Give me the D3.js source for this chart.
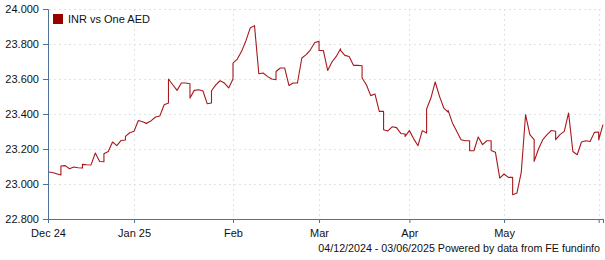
<!DOCTYPE html>
<html>
<head>
<meta charset="utf-8">
<script src="https://cdn.jsdelivr.net/npm/d3@7"></script>
<style>
  body { margin: 0; background: #fff; }
  svg { display: block; font-family: "Liberation Sans", Arial, sans-serif; }
</style>
</head>
<body>
<svg width="605" height="260"></svg>
<script>
// daily INR per AED, one value per calendar day from 04/12/2024 to 03/06/2025
// weekends (Sat, Sun) sit on the following Monday's slot, like the source chart
const startDate = new Date(2024, 11, 4);
const rates = [
  23.069, 23.066, 23.059, 23.051, 23.051,                  // Dec 4-8
  23.103, 23.105, 23.087, 23.097, 23.093, 23.091, 23.091,  // Dec 9-15
  23.112, 23.110, 23.109, 23.177, 23.129, 23.127, 23.127,  // Dec 16-22
  23.173, 23.186, 23.240, 23.219, 23.249, 23.251, 23.251,  // Dec 23-29
  23.272, 23.293, 23.301, 23.363, 23.356, 23.345, 23.345,  // Dec 30-Jan 5
  23.349, 23.362, 23.383, 23.389, 23.453, 23.463, 23.463,  // Jan 6-12
  23.600, 23.567, 23.535, 23.577, 23.577, 23.573, 23.573,  // Jan 13-19
  23.491, 23.535, 23.539, 23.533, 23.459, 23.463, 23.463,  // Jan 20-26
  23.533, 23.566, 23.590, 23.577, 23.549, 23.600, 23.600,  // Jan 27-Feb 2
  23.691, 23.714, 23.758, 23.819, 23.891, 23.905, 23.905,  // Feb 3-9
  23.905, 23.630, 23.634, 23.615, 23.600, 23.596, 23.596,  // Feb 10-16
  23.643, 23.663, 23.663, 23.563, 23.577, 23.577, 23.577,  // Feb 17-23
  23.580, 23.720, 23.739, 23.767, 23.809, 23.815, 23.815,  // Feb 24-Mar 2
  23.763, 23.763, 23.649, 23.697, 23.729, 23.773, 23.773,  // Mar 3-9
  23.763, 23.735, 23.729, 23.678, 23.678, 23.676, 23.676,  // Mar 10-16
  23.606, 23.567, 23.505, 23.514, 23.415, 23.415, 23.415,  // Mar 17-23
  23.310, 23.303, 23.327, 23.322, 23.289, 23.286, 23.286,  // Mar 24-30
  23.272, 23.305, 23.258, 23.219, 23.305, 23.291, 23.291,  // Mar 31-Apr 6
  23.429, 23.491, 23.583, 23.501, 23.434, 23.411, 23.411,  // Apr 7-13
  23.421, 23.349, 23.301, 23.253, 23.247, 23.247, 23.247,  // Apr 14-20
  23.190, 23.190, 23.269, 23.225, 23.247, 23.247, 23.247,  // Apr 21-27
  23.192, 23.181, 23.034, 23.057, 23.038, 23.038, 23.038,  // Apr 28-May 4
  22.939, 22.949, 23.066, 23.396, 23.282, 23.253, 23.253,  // May 5-11
  23.129, 23.200, 23.253, 23.282, 23.306, 23.301, 23.301,  // May 12-18
  23.253, 23.282, 23.301, 23.406, 23.186, 23.167, 23.167,  // May 19-25
  23.167, 23.240, 23.247, 23.243, 23.295, 23.297, 23.297,  // May 26-Jun 1
  23.253, 23.339                                           // Jun 2-3
];
const monthLabels = ['Dec 24', 'Jan 25', 'Feb', 'Mar', 'Apr', 'May'];
const yTicks = [22.8, 23.0, 23.2, 23.4, 23.6, 23.8, 24.0];
const seriesName = 'INR vs One AED';
const footer = '04/12/2024 - 03/06/2025 Powered by data from FE fundinfo';

const LINE = '#a8181c';
const AXIS = '#4d7197';
const GRID = '#e2e2e2';

// business-day slot for every calendar day (weekend -> next Monday)
let slot = 0;
const pts = rates.map((v, k) => {
  const d = d3.timeDay.offset(startDate, k);
  const wd = d.getDay();
  const p = {date: d, value: v, idx: slot};
  if (wd !== 0 && wd !== 6) slot++;
  return p;
});
const weekdays = pts.filter(p => p.date.getDay() !== 0 && p.date.getDay() !== 6);
const lastIdx = weekdays[weekdays.length - 1].idx;

// first trading day of each month gets a tick
const monthTicks = [];
weekdays.forEach((p, i) => {
  if (i === 0 || p.date.getMonth() !== weekdays[i - 1].date.getMonth()) monthTicks.push(p.idx);
});

const svg = d3.select('svg');
const x = d3.scaleLinear().domain([0, lastIdx]).range([48, 603]);
const y = d3.scaleLinear().domain([22.8, 24.0]).range([219, 9]);

// grid
const grid = svg.append('g').attr('stroke', GRID).attr('stroke-dasharray', '2,3');
grid.selectAll('line.h').data(yTicks.slice(1)).enter().append('line')
  .attr('x1', 49).attr('x2', 603)
  .attr('y1', d => Math.round(y(d)) + 0.5).attr('y2', d => Math.round(y(d)) + 0.5);
grid.selectAll('line.v').data(monthTicks.slice(1)).enter().append('line')
  .attr('x1', d => Math.round(x(d)) + 0.5).attr('x2', d => Math.round(x(d)) + 0.5)
  .attr('y1', 9).attr('y2', 219);

// line
const line = d3.line().x(d => x(d.idx)).y(d => y(d.value));
svg.append('path').datum(pts)
  .attr('fill', 'none').attr('stroke', LINE).attr('stroke-width', 1.1)
  .attr('stroke-linejoin', 'round').attr('d', line);

// axes
const yAxis = svg.append('g').attr('transform', 'translate(48,0)')
  .call(d3.axisLeft(y).tickValues(yTicks).tickFormat(d3.format('.3f')).tickSize(5).tickPadding(4));
const xAxis = svg.append('g').attr('transform', 'translate(0,219)')
  .call(d3.axisBottom(x).tickValues(monthTicks.concat([lastIdx]))
    .tickFormat((d, i) => monthLabels[i] || '').tickSize(4).tickPadding(6));
[yAxis, xAxis].forEach(g => {
  g.select('.domain').attr('stroke', AXIS);
  g.selectAll('.tick line').attr('stroke', AXIS);
  g.selectAll('.tick text').attr('fill', '#111').attr('font-size', 11)
    .attr('font-family', '"Liberation Sans", Arial, sans-serif');
});

// legend
svg.append('rect').attr('x', 53).attr('y', 14).attr('width', 10).attr('height', 10).attr('fill', '#990000');
svg.append('text').attr('x', 68).attr('y', 23).attr('font-size', 11).attr('fill', '#111').text(seriesName);

// footer
svg.append('text').attr('x', 600).attr('y', 252).attr('text-anchor', 'end')
  .attr('font-size', 10.7).attr('fill', '#111').text(footer);
</script>
</body>
</html>
